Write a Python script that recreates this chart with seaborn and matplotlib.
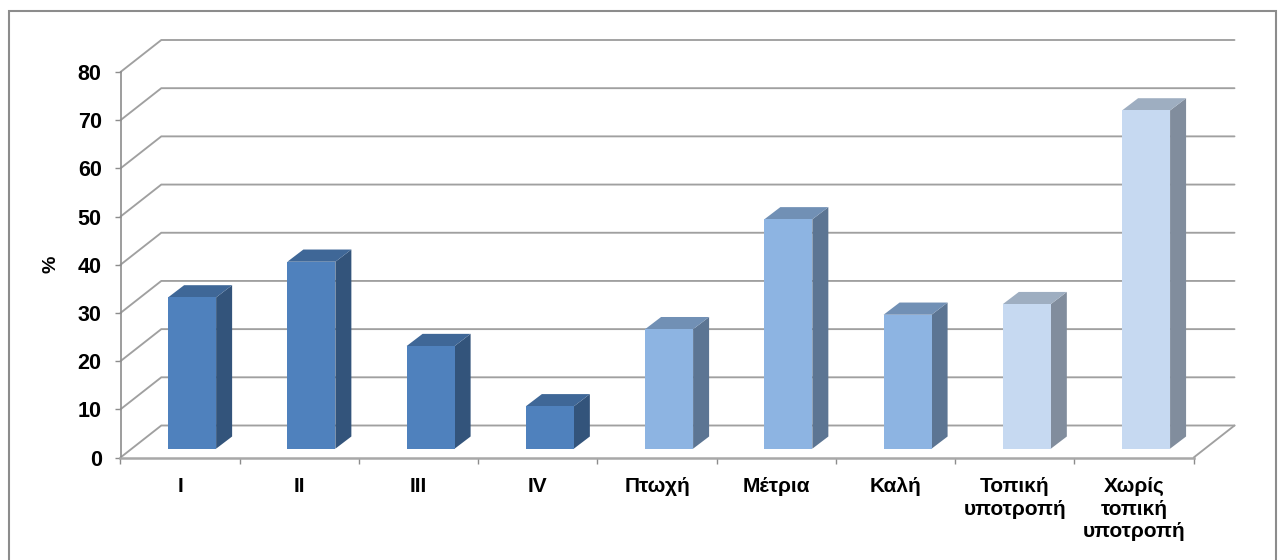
import matplotlib
matplotlib.use("Agg")
import matplotlib.pyplot as plt
from matplotlib.patches import Polygon, Rectangle
import pandas as pd
import seaborn as sns

categories = ["I", "II", "III", "IV", "Πτωχή", "Μέτρια", "Καλή",
              "Τοπική\nυποτροπή", "Χωρίς\nτοπική\nυποτροπή"]
values = [31.4, 38.8, 21.3, 8.8, 24.8, 47.6, 27.8, 30.0, 70.2]
groups = ["stage"] * 4 + ["response"] * 3 + ["recurrence"] * 2
group_colors = {"stage": "#4F81BD", "response": "#8DB4E2", "recurrence": "#C6D9F1"}
y_ticks = [0, 10, 20, 30, 40, 50, 60, 70, 80]
y_label = "%"

W, H = 1282, 560
LEFT, RIGHT, BASE, TOP = 120.5, 1193.7, 457.5, 72.0   # front plane of the chart box, px
SLOT = (RIGHT - LEFT) / len(categories)
UNIT = (BASE - TOP) / 80
GRID = "#A0A0A0"
AXIS = "#8C8C8C"
TEXT_FONT = ["Liberation Sans", "DejaVu Sans"]

sns.set_theme(style="white")
plt.rcParams["font.family"] = TEXT_FONT
plt.rcParams["font.weight"] = "bold"


def rect(x0, x1, ytop, ybot):
    return [x0 / W, 1 - ybot / H, (x1 - x0) / W, (ybot - ytop) / H]


def shade(color, k):
    r, g, b = matplotlib.colors.to_rgb(color)
    return (r * k, g * k, b * k)


fig = plt.figure(figsize=(W / 100, H / 100), dpi=100, facecolor="white")
fig.add_artist(Rectangle((9 / W, -0.05), (1275.5 - 9) / W, 1.05 - 11 / H,
                         transform=fig.transFigure, fill=False,
                         edgecolor="#8C8C8C", linewidth=1.5))

# Front plane: axis lines, ticks and labels
ax = fig.add_axes(rect(LEFT, RIGHT, TOP, BASE))
ax.set_facecolor("none")
ax.set_xlim(-0.5, len(categories) - 0.5)
ax.set_ylim(0, 80)
ax.set_yticks(y_ticks)
ax.set_xticks([i - 0.5 for i in range(len(categories) + 1)])
ax.set_xticklabels([])
ax.set_xticks(range(len(categories)), labels=categories, minor=True)
ax.tick_params(axis="y", length=4.5, width=1.0, color=AXIS, pad=9, labelsize=15.5, labelcolor="black", left=True)
ax.tick_params(axis="x", which="major", length=4, width=1.0, color=AXIS, bottom=True)
ax.tick_params(axis="x", which="minor", length=0, pad=14, labelsize=15, labelcolor="black")
for lab in ax.get_xticklabels(minor=True):
    lab.set_linespacing(1.24)
for side in ("top", "right"):
    ax.spines[side].set_visible(False)
ax.spines["left"].set_color(AXIS)
ax.spines["left"].set_linewidth(1.2)
ax.spines["bottom"].set_color("#A8A8A8")
ax.spines["bottom"].set_linewidth(1.8)
ax.set_ylabel(y_label, fontsize=14, fontweight="bold", color="black", labelpad=13)

# Receding back wall and floor, expressed in data units of the front plane
depth_x = 40.8 / SLOT
depth_y = 32.0 / UNIT
x0, x1 = -0.5, len(categories) - 0.5
for v in y_ticks:
    ax.plot([x0, x0 + depth_x, x1 + depth_x], [v, v + depth_y, v + depth_y],
            color=GRID, lw=1.35, clip_on=False, zorder=1, solid_joinstyle="miter")
ax.plot([x1, x1 + depth_x], [0, depth_y], color=GRID, lw=1.35, clip_on=False, zorder=1)

# Bars sit a little behind the front plane, so they get their own shifted axes
SHIFT_X, SHIFT_Y = 12.0, 8.8
bars_ax = fig.add_axes(rect(LEFT + SHIFT_X, RIGHT + SHIFT_X, TOP - SHIFT_Y, BASE - SHIFT_Y))
df = pd.DataFrame({"category": categories, "value": values, "group": groups})
sns.barplot(data=df, x="category", y="value", hue="group", palette=group_colors,
            dodge=False, legend=False, width=48 / SLOT, linewidth=0, saturation=1,
            ax=bars_ax, zorder=3)
bars_ax.set_xlim(-0.5, len(categories) - 0.5)
bars_ax.set_ylim(0, 80)
bars_ax.set_axis_off()
bars_ax.patch.set_alpha(0)

bar_dx = 16.0 / SLOT
bar_dy = 12.2 / UNIT
for patch in bars_ax.patches:
    h = patch.get_height()
    if h <= 0:
        continue
    xa = patch.get_x()
    xb = xa + patch.get_width()
    color = patch.get_facecolor()
    bars_ax.add_patch(Polygon([(xb, 0), (xb + bar_dx, bar_dy), (xb + bar_dx, h + bar_dy), (xb, h)],
                              closed=True, facecolor=shade(color, 0.65), edgecolor="none",
                              clip_on=False, zorder=2))
    bars_ax.add_patch(Polygon([(xa, h), (xa + bar_dx, h + bar_dy), (xb + bar_dx, h + bar_dy), (xb, h)],
                              closed=True, facecolor=shade(color, 0.8), edgecolor="none",
                              clip_on=False, zorder=2))

fig.savefig("out.png", dpi=100, facecolor="white")
